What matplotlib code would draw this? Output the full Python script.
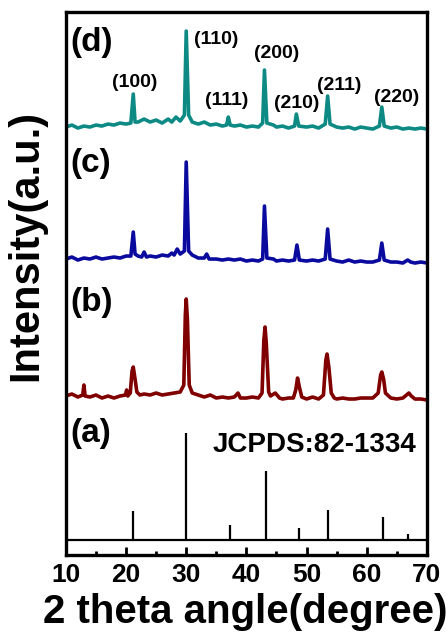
import matplotlib
matplotlib.use('Agg')
import matplotlib.pyplot as plt
from matplotlib.ticker import MultipleLocator

plt.rcParams['font.family'] = ['Liberation Sans', 'DejaVu Sans']
plt.rcParams['font.weight'] = 'bold'

# (a) reference sticks, JCPDS 82-1334
ref_pos = [21.2, 30.0, 37.2, 43.2, 48.7, 53.5, 62.7, 66.9]
ref_top = [44, 122, 30, 84, 27, 45, 38, 21]
ref_base = 15

# (b) dark red pattern
b_x = [10, 11, 12, 12.8, 13.0, 13.2, 14, 15, 16, 17, 18, 19, 19.9, 20.1, 20.3,
       20.7, 21.0, 21.2, 21.5, 21.8, 22.3, 23, 24, 25, 26, 27, 28, 29, 29.6,
       29.85, 30.0, 30.2, 30.5, 31, 32, 33, 34, 35, 36, 37, 38, 38.6, 39, 40,
       41, 42, 42.6, 42.9, 43.1, 43.3, 43.7, 44, 44.8, 45.5, 46, 47, 47.8,
       48.2, 48.5, 48.8, 49.2, 50, 51, 52, 52.8, 53.2, 53.4, 53.7, 54.1, 54.6,
       55, 56, 57, 58, 59, 60, 61, 61.9, 62.3, 62.5, 62.8, 63.1, 64, 65, 66,
       66.6, 67.0, 67.4, 68, 69, 70]
b_y = [159, 161, 158, 160, 170, 159, 158, 160, 157, 159, 157, 159, 160, 165, 159,
       162, 184, 188, 176, 163, 160, 161, 160, 162, 160, 161, 162, 163, 170,
       240, 256, 235, 170, 162, 160, 158, 160, 157, 158, 157, 158, 162, 157, 157,
       158, 157, 162, 215, 228, 212, 163, 159, 162, 157, 156, 157, 157,
       165, 177, 168, 158, 156, 158, 156, 160, 195, 201, 188, 162, 157,
       156, 157, 156, 156, 157, 157, 157, 162, 180, 183, 176, 162, 157, 156, 157,
       160, 162, 159, 156, 156, 155]

# (c) blue pattern
c_x = [10, 11, 12, 13, 14, 15, 16, 17, 18, 19, 20, 20.8, 21.2, 21.5, 22, 22.6,
       23.0, 23.4, 24, 25, 26, 27, 27.6, 28.0, 28.5, 29.0, 29.7, 30.0, 30.4,
       31, 32, 33, 33.4, 33.8, 35, 36, 37, 38, 39, 40, 41, 42, 42.7, 43.0,
       43.4, 44.5, 45, 46, 47, 48.0, 48.4, 48.8, 50, 51, 52, 53.1, 53.5, 53.9,
       55, 56, 57, 58, 59, 60, 61, 62.1, 62.5, 62.9, 64, 65, 66, 66.8, 67.3,
       68, 69, 70]
c_y = [296, 298, 295, 297, 296, 298, 296, 297, 298, 297, 299, 299, 323, 301, 299, 298,
       303, 298, 299, 298, 300, 299, 302, 300, 306, 301, 304, 393, 304,
       300, 297, 297, 301, 296, 296, 295, 296, 295, 296, 294, 295, 294, 296, 349,
       297, 296, 294, 295, 294, 295, 310, 295, 294, 295, 294, 296, 326, 296,
       294, 293, 295, 293, 294, 293, 293, 295, 312, 295, 293, 293, 292, 295, 293,
       292, 293, 292]

# (d) teal pattern
d_x = [10, 11, 12, 13, 14, 15, 16, 17, 18, 19, 20, 20.8, 21.2, 21.5, 22, 23,
       24, 25, 26, 27, 27.6, 28.3, 29, 29.7, 30.0, 30.4, 31, 32, 33, 34, 35,
       36, 36.7, 37.0, 37.3, 38, 39, 40, 41, 42, 42.7, 43.0, 43.4, 44.5, 45,
       46, 47, 48.0, 48.3, 48.7, 50, 51, 52, 53.1, 53.5, 53.9, 55, 56, 57, 58,
       59, 60, 61, 62.1, 62.5, 62.9, 64, 65, 66, 67, 68, 69, 70]
d_y = [428, 430, 427, 429, 428, 430, 429, 431, 430, 432, 431, 432, 461, 433, 433, 436,
       433, 435, 432, 436, 433, 438, 434, 440, 524, 440, 433, 431, 433, 430, 431,
       429, 430, 438, 430, 429, 430, 428, 429, 428, 432, 485, 432, 430, 428,
       429, 427, 429, 441, 429, 428, 429, 427, 431, 459, 431, 428, 427, 428, 426,
       428, 427, 426, 429, 448, 429, 427, 428, 426, 427, 426, 427, 426]

hkl_labels = ['(100)', '(110)', '(111)', '(200)', '(210)', '(211)', '(220)']
hkl_x = [21.5, 35.0, 36.7, 45.0, 48.4, 55.5, 65.0]
hkl_y = [473, 516, 455, 502, 452, 470, 458]

panel_labels = ['(a)', '(b)', '(c)', '(d)']
panel_y = [122, 253, 392, 513]

fig = plt.figure(figsize=(4.48, 6.35), dpi=100)
ax = fig.add_axes([0.147, 0.126, 0.806, 0.855])

ax.plot([10, 70], [ref_base, ref_base], color='black', lw=1.6)
ax.vlines(ref_pos, ref_base, ref_top, color='black', lw=1.6)
ax.plot(b_x, b_y, color='#800000', lw=2.6)
ax.plot(c_x, c_y, color='#0A0A9E', lw=2.6)
ax.plot(d_x, d_y, color='#0E8A85', lw=2.6)

for lab, y in zip(panel_labels, panel_y):
    ax.text(10.7, y, lab, fontsize=24, fontweight='bold', ha='left', va='center')
for lab, x, y in zip(hkl_labels, hkl_x, hkl_y):
    ax.text(x, y, lab, fontsize=14, fontweight='bold', ha='center', va='center')
ax.text(68.3, 110, 'JCPDS:82-1334', fontsize=20, fontweight='bold', ha='right', va='center')

ax.set_xlim(10, 70)
ax.set_ylim(0, 543)
ax.set_yticks([])
ax.xaxis.set_major_locator(MultipleLocator(10))
ax.xaxis.set_minor_locator(MultipleLocator(5))
ax.tick_params(axis='x', which='major', direction='in', length=6, width=2, labelsize=19, pad=6)
ax.tick_params(axis='x', which='minor', direction='in', length=3, width=2)
for lbl in ax.get_xticklabels():
    lbl.set_fontweight('bold')
for sp in ax.spines.values():
    sp.set_linewidth(2.4)

fig.text(0.547, 0.036, '2 theta angle(degree)', fontsize=29, fontweight='bold',
         ha='center', va='center')
fig.text(0.058, 0.614, 'Intensity(a.u.)', fontsize=30, fontweight='bold',
         ha='center', va='center', rotation=90)

fig.savefig('out.png', dpi=100)
